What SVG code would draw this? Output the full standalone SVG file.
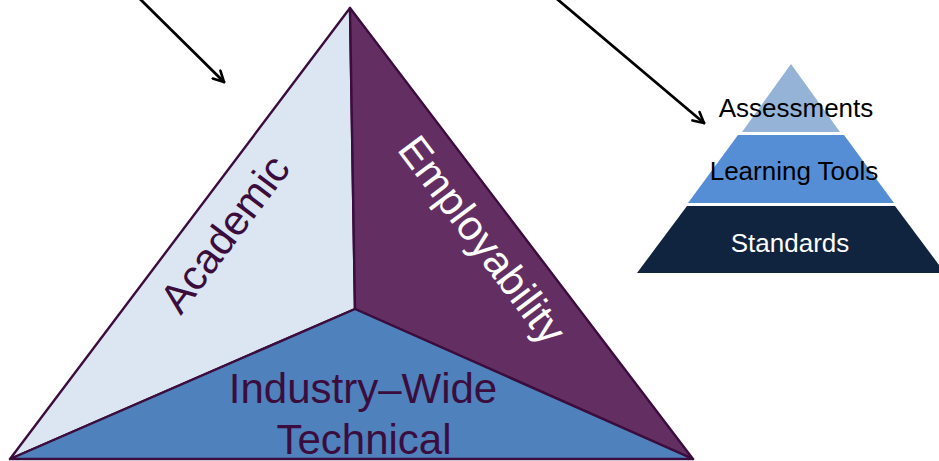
<svg xmlns="http://www.w3.org/2000/svg" width="939" height="461" viewBox="0 0 939 461">
  <style>
    .face { stroke: #3b0d3d; stroke-width: 2.4; stroke-linejoin: round; }
    .lbl { font-family: "Liberation Sans", Arial, sans-serif; }
    .big { font-size: 42px; }
    .small { font-size: 26px; }
    .arrow { fill: none; stroke: #000; stroke-width: 2.8; stroke-linecap: round; }
  </style>
  <defs>
    <marker id="open-arrow" viewBox="0 0 14 14" refX="12" refY="7" markerWidth="14" markerHeight="14" markerUnits="userSpaceOnUse" orient="auto">
      <path d="M1.5,1.5 L12,7 L1.5,12.5" fill="none" stroke="#000" stroke-width="2.6" stroke-linecap="round" stroke-linejoin="round"/>
    </marker>
  </defs>

  <!-- Three-sided triangle -->
  <g id="academic">
    <polygon class="face" points="350,8 355,309 10,459" fill="#dce6f2"/>
    <text class="lbl big" fill="#3b0d3d" text-anchor="middle" transform="translate(225,234) rotate(-53)" dy="14">Academic</text>
  </g>
  <g id="employability">
    <polygon class="face" points="350,8 693,459 355,309" fill="#632f63"/>
    <text class="lbl big" fill="#ffffff" text-anchor="middle" transform="translate(482,240) rotate(53)" dy="14">Employability</text>
  </g>
  <g id="industry-wide-technical">
    <polygon class="face" points="355,309 693,459 10,459" fill="#4f81bd"/>
    <text class="lbl big" fill="#3b0d3d" text-anchor="middle" x="363" y="403">Industry–Wide</text>
    <text class="lbl big" fill="#3b0d3d" text-anchor="middle" x="364" y="454">Technical</text>
  </g>

  <!-- Layered pyramid -->
  <g id="assessments">
    <polygon points="791,64 840,132 742,132" fill="#95b3d7"/>
    <text class="lbl small" fill="#000" text-anchor="middle" x="796" y="117">Assessments</text>
  </g>
  <g id="learning-tools">
    <polygon points="738,135 844,135 894,203 688,203" fill="#558ed5"/>
    <text class="lbl small" fill="#000" text-anchor="middle" x="794" y="180">Learning Tools</text>
  </g>
  <g id="standards">
    <polygon points="687,206 895,206 945,273 637,273" fill="#11243f"/>
    <text class="lbl small" fill="#fff" text-anchor="middle" x="790" y="252">Standards</text>
  </g>

  <!-- Connectors -->
  <g id="connectors">
    <line class="arrow" x1="140" y1="-1" x2="224" y2="82" marker-end="url(#open-arrow)"/>
    <line class="arrow" x1="557" y1="-1" x2="704" y2="123" marker-end="url(#open-arrow)"/>
  </g>
</svg>
